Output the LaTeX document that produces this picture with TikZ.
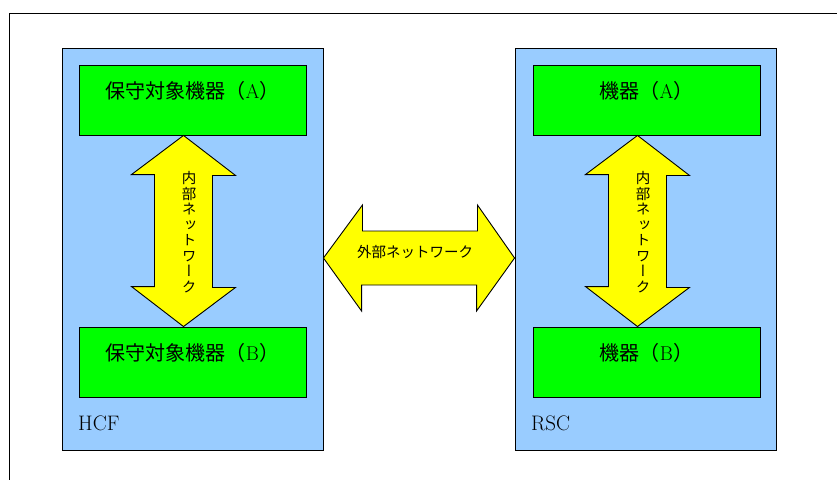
\documentclass[tikz,border=0pt]{standalone}
\usepackage{fontspec}
\newfontfamily\jp{Noto Sans CJK JP}
\newfontfamily\jpv[RawFeature=+vert]{Noto Sans CJK JP}
\usetikzlibrary{positioning}
\usetikzlibrary{calc}
\definecolor{panelblue}{HTML}{99CCFF}
\definecolor{boxgreen}{HTML}{00FF00}
\definecolor{netyellow}{HTML}{FFFF00}
\tikzset{
    panel/.style = {rectangle, draw=black, line width=0.9pt, fill=panelblue, minimum width=261pt, minimum height=402pt, inner sep=0pt},
    devbox/.style = {rectangle, draw=black, line width=0.9pt, fill=boxgreen, minimum width=227pt, minimum height=70pt, text height=14pt, text depth=18pt, font=\rmfamily\fontsize{20}{24}\selectfont},
    netarrow/.style = {draw=black, line width=0.9pt, fill=netyellow, line join=miter},
    netlabel/.style = {inner sep=0pt, align=center, font=\jp\fontsize{14.5}{16}\selectfont},
    vnetlabel/.style = {inner sep=0pt, align=center, font=\jpv\fontsize{14.5}{15.5}\selectfont},
    sitelabel/.style = {inner sep=0pt, anchor=base west, font=\rmfamily\fontsize{21}{24}\selectfont},
}
\newcommand{\J}[1]{{\jp #1}}

\begin{document}
\begin{tikzpicture}[x=1pt,y=-1pt]
\clip (0,0) rectangle (837,479);
\useasboundingbox (0,0) rectangle (837,479);
\draw[line width=1pt] (9,490) -- (9,13) -- (850,13);

\node[panel] at (192.5,249) (hcf) {};
\node[panel] at (645.5,249) (rsc) {};
\node[sitelabel] at (78,430) (hcflbl) {HCF};
\node[sitelabel] at (531,430) (rsclbl) {RSC};

\node[devbox] at (192.5,100) (hcfA) {\J{保守対象機器（}A\J{）}};
\node[devbox] at (192.5,362) (hcfB) {\J{保守対象機器（}B\J{）}};
\node[devbox] at (646.5,100) (rscA) {\J{機器（}A\J{）}};
\node[devbox] at (646.5,362) (rscB) {\J{機器（}B\J{）}};

% internal networks
\draw[netarrow] ($(hcfA.south)+(-9,0)$) -- ++(52,40) -- ++(-23,0) -- ++(0,112) -- ++(23,0)
  -- ($(hcfB.north)+(-9,0)$) -- ++(-52,-40) -- ++(23,0) -- ++(0,-112) -- ++(-23,0) -- cycle;
\draw[netarrow] ($(rscA.south)+(-9,0)$) -- ++(52,40) -- ++(-23,0) -- ++(0,112) -- ++(23,0)
  -- ($(rscB.north)+(-9,0)$) -- ++(-52,-40) -- ++(23,0) -- ++(0,-112) -- ++(-23,0) -- cycle;
\node[vnetlabel] at (189,232) (hcfnet) {内\\部\\ネ\\ッ\\ト\\ワ\\ー\\ク};
\node[vnetlabel] at (643,232) (rscnet) {内\\部\\ネ\\ッ\\ト\\ワ\\ー\\ク};

% external network
\draw[netarrow] ($(hcf.east)+(0,9)$) -- ++(39,-53) -- ++(0,26) -- ++(115,0) -- ++(0,-26)
  -- ($(rsc.west)+(0,9)$) -- ++(-38,53) -- ++(0,-26) -- ++(-115,0) -- ++(0,26) -- cycle;
\node[netlabel] at (415,252) (extnet) {外部ネットワーク};

\end{tikzpicture}
\end{document}
